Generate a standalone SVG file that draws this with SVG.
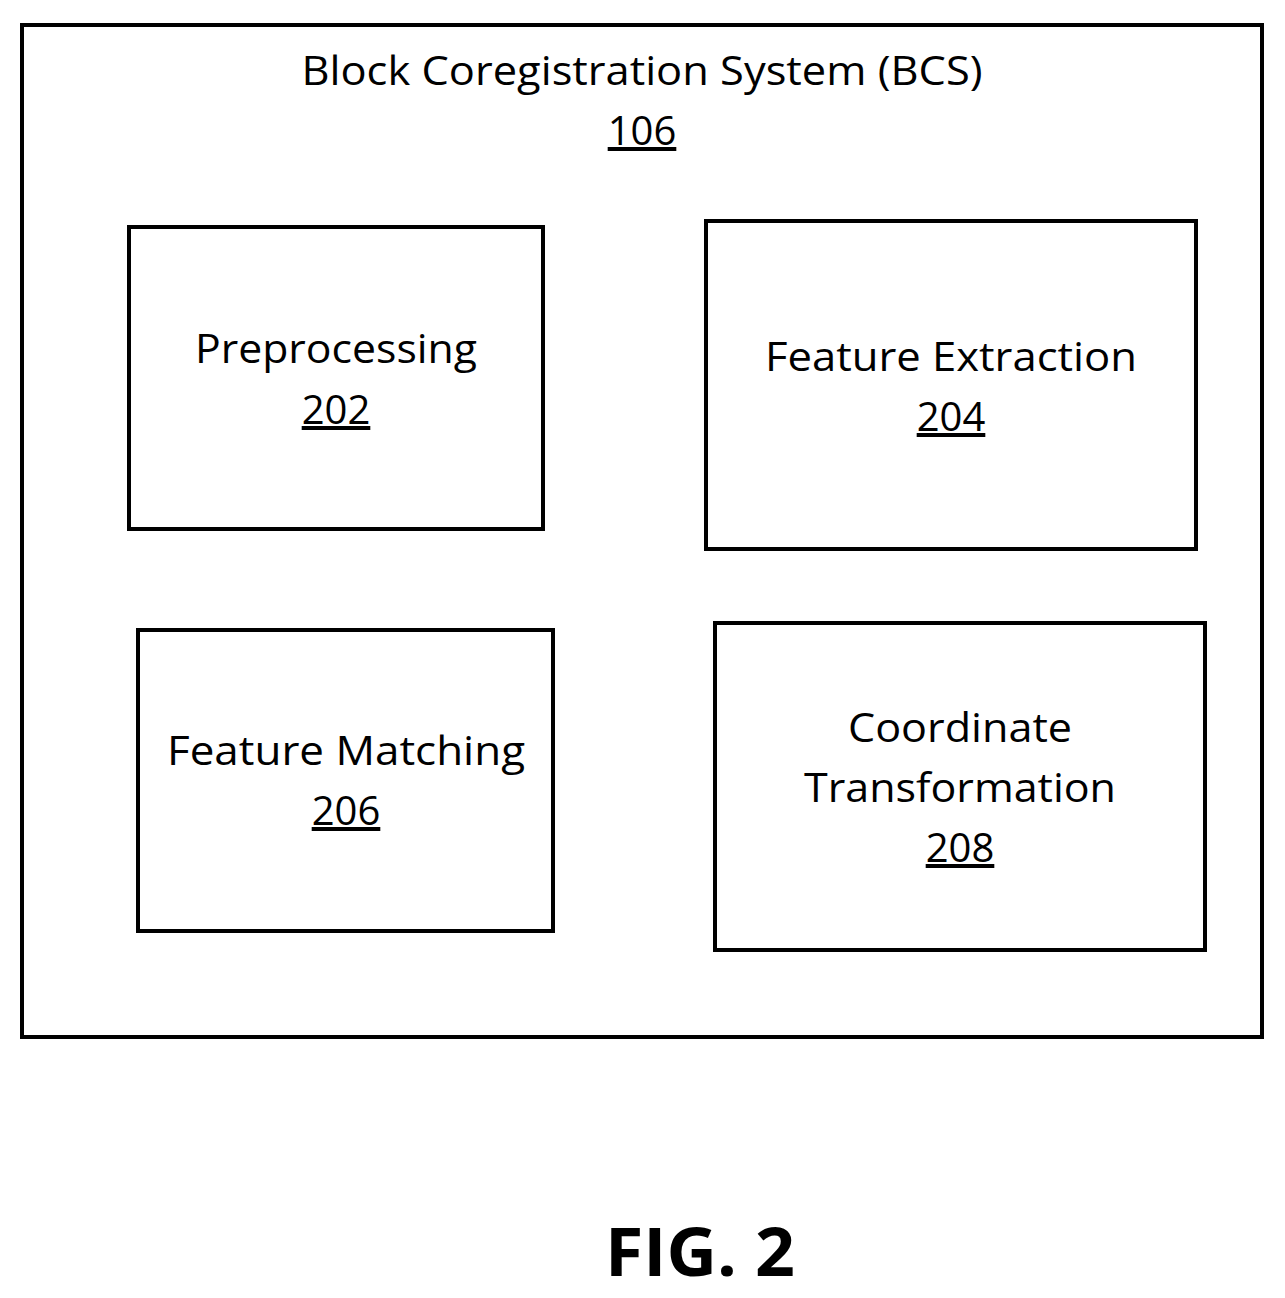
<svg xmlns="http://www.w3.org/2000/svg" width="1285" height="1298" viewBox="0 0 1285 1298">
<style>
rect{fill:none;stroke:#000;stroke-width:4}
text{font-family:"Open Sans","Liberation Sans",sans-serif;font-size:40px;text-anchor:middle;fill:#000}
.u{text-decoration:underline}
</style>
<rect width="1285" height="1298" style="fill:#fff;stroke:none"/>
<g id="bcs">
<rect x="22" y="25" width="1240" height="1012"/>
<text x="642" y="85" textLength="681" lengthAdjust="spacingAndGlyphs">Block Coregistration System (BCS)</text>
<text x="642" y="145" class="u">106</text>
</g>
<g id="n202">
<rect x="129" y="227" width="414" height="302"/>
<text x="336" y="363" textLength="282" lengthAdjust="spacingAndGlyphs">Preprocessing</text>
<text x="336" y="424" class="u">202</text>
</g>
<g id="n204">
<rect x="706" y="221" width="490" height="328"/>
<text x="951" y="371" textLength="372" lengthAdjust="spacingAndGlyphs">Feature Extraction</text>
<text x="951" y="431" class="u">204</text>
</g>
<g id="n206">
<rect x="138" y="630" width="415" height="301"/>
<text x="346" y="765" textLength="358" lengthAdjust="spacingAndGlyphs">Feature Matching</text>
<text x="346" y="825" class="u">206</text>
</g>
<g id="n208">
<rect x="715" y="623" width="490" height="327"/>
<text x="960" y="742" textLength="224" lengthAdjust="spacingAndGlyphs">Coordinate</text>
<text x="960" y="802" textLength="312" lengthAdjust="spacingAndGlyphs">Transformation</text>
<text x="960" y="862" class="u">208</text>
</g>
<g id="connectors"></g>
<text x="700" y="1276" textLength="190" lengthAdjust="spacingAndGlyphs" style="font-size:66px;font-weight:bold">FIG. 2</text>
</svg>
